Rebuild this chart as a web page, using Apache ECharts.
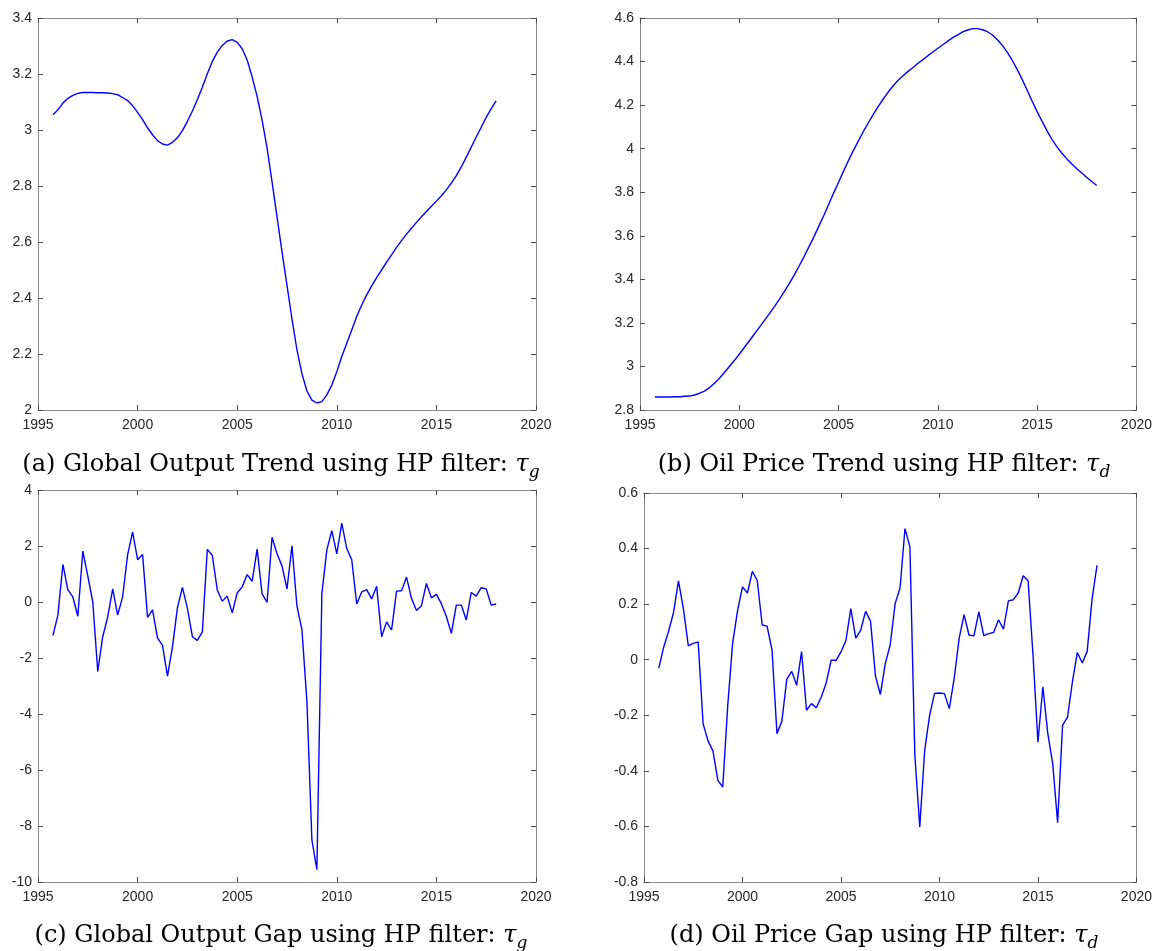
<!DOCTYPE html>
<html>
<head>
<meta charset="utf-8">
<script src="https://cdn.jsdelivr.net/npm/echarts@6.0.0/dist/echarts.min.js"></script>
<style>
html,body{margin:0;padding:0;background:#fff;}
#chart{width:1155px;height:951px;}
</style>
</head>
<body>
<div id="chart"></div>
<script>
// Quarterly observations, 1995Q4 .. 2018Q1
const startYear = 1995.75;
const quarterStep = 0.25;

const outputTrend = [
  3.054, 3.072, 3.096, 3.113, 3.124, 3.131, 3.134, 3.134, 3.134, 3.133,
  3.133, 3.132, 3.130, 3.126, 3.116, 3.105, 3.087, 3.063, 3.037, 3.008,
  2.983, 2.962, 2.950, 2.946, 2.956, 2.972, 2.998, 3.031, 3.068, 3.108,
  3.153, 3.201, 3.244, 3.278, 3.302, 3.318, 3.323, 3.313, 3.290, 3.250,
  3.190, 3.120, 3.035, 2.935, 2.815, 2.690, 2.565, 2.445, 2.325, 2.215,
  2.130, 2.068, 2.035, 2.025, 2.030, 2.054, 2.089, 2.137, 2.191, 2.238,
  2.286, 2.334, 2.375, 2.411, 2.443, 2.473, 2.500, 2.528, 2.554, 2.581,
  2.605, 2.628, 2.649, 2.670, 2.690, 2.709, 2.728, 2.746, 2.765, 2.786,
  2.810, 2.837, 2.868, 2.903, 2.939, 2.975, 3.010, 3.045, 3.076, 3.104
];

const oilTrend = [
  2.860, 2.860, 2.860, 2.860, 2.861, 2.861, 2.863, 2.864, 2.869, 2.877,
  2.887, 2.903, 2.923, 2.946, 2.972, 3.000, 3.027, 3.056, 3.087, 3.117,
  3.148, 3.178, 3.209, 3.240, 3.272, 3.306, 3.341, 3.378, 3.417, 3.459,
  3.502, 3.548, 3.594, 3.643, 3.692, 3.744, 3.796, 3.846, 3.897, 3.946,
  3.992, 4.036, 4.079, 4.119, 4.157, 4.194, 4.228, 4.260, 4.289, 4.314,
  4.335, 4.355, 4.373, 4.392, 4.409, 4.427, 4.444, 4.461, 4.477, 4.494,
  4.510, 4.523, 4.536, 4.545, 4.551, 4.551, 4.546, 4.537, 4.522, 4.500,
  4.474, 4.442, 4.405, 4.363, 4.317, 4.268, 4.218, 4.170, 4.125, 4.082,
  4.042, 4.008, 3.979, 3.953, 3.930, 3.908, 3.888, 3.868, 3.849, 3.831
];

const outputGap = [
  -1.20, -0.46, 1.34, 0.43, 0.18, -0.51, 1.82, 0.93, 0.00, -2.48,
  -1.24, -0.53, 0.47, -0.47, 0.19, 1.69, 2.50, 1.51, 1.70, -0.55,
  -0.28, -1.28, -1.55, -2.65, -1.60, -0.20, 0.52, -0.22, -1.24, -1.37,
  -1.07, 1.88, 1.67, 0.43, 0.03, 0.21, -0.39, 0.32, 0.54, 0.98,
  0.74, 1.89, 0.29, -0.01, 2.31, 1.72, 1.29, 0.47, 2.01, -0.15,
  -0.99, -3.55, -8.50, -9.56, 0.30, 1.86, 2.55, 1.72, 2.82, 1.91,
  1.51, -0.07, 0.36, 0.44, 0.11, 0.56, -1.24, -0.71, -1.00, 0.39,
  0.40, 0.89, 0.13, -0.30, -0.13, 0.66, 0.15, 0.27, -0.06, -0.52,
  -1.12, -0.11, -0.11, -0.64, 0.34, 0.21, 0.51, 0.47, -0.11, -0.07
];

const oilGap = [
  -0.030, 0.045, 0.103, 0.170, 0.284, 0.183, 0.050, 0.059, 0.064, -0.230,
  -0.292, -0.328, -0.434, -0.458, -0.166, 0.060, 0.177, 0.262, 0.240, 0.318,
  0.285, 0.125, 0.121, 0.035, -0.266, -0.221, -0.070, -0.042, -0.092, 0.029,
  -0.182, -0.158, -0.173, -0.134, -0.084, -0.002, -0.002, 0.028, 0.069, 0.184,
  0.078, 0.106, 0.174, 0.139, -0.058, -0.125, -0.014, 0.054, 0.202, 0.258,
  0.472, 0.406, -0.344, -0.602, -0.326, -0.200, -0.121, -0.120, -0.122, -0.176,
  -0.066, 0.077, 0.162, 0.089, 0.086, 0.172, 0.087, 0.094, 0.098, 0.144,
  0.110, 0.212, 0.216, 0.240, 0.302, 0.284, 0.016, -0.297, -0.098, -0.266,
  -0.374, -0.587, -0.236, -0.207, -0.080, 0.026, -0.012, 0.030, 0.220, 0.340
];

const xTicks = {min: 1995, max: 2020, interval: 5};
const yTicksA = {min: 2, max: 3.4, interval: 0.2};
const yTicksB = {min: 2.8, max: 4.6, interval: 0.2};
const yTicksC = {min: -10, max: 4, interval: 2};
const yTicksD = {min: -0.8, max: 0.6, interval: 0.2};

const captions = [
  {label: '(a) Global Output Trend using HP filter: ', sub: 'g'},
  {label: '(b) Oil Price Trend using HP filter: ', sub: 'd'},
  {label: '(c) Global Output Gap using HP filter: ', sub: 'g'},
  {label: '(d) Oil Price Gap using HP filter: ', sub: 'd'}
];

const dates = outputTrend.map((_, i) => startYear + quarterStep * i);
const pairs = arr => arr.map((v, i) => [dates[i], v]);

const panels = [
  {grid: {left: 38, top: 18, width: 498, height: 392}, y: yTicksA, data: outputTrend, cap: {x: 281, y: 465}},
  {grid: {left: 640, top: 18, width: 497, height: 392}, y: yTicksB, data: oilTrend, cap: {x: 884, y: 465}},
  {grid: {left: 38, top: 490, width: 498, height: 392}, y: yTicksC, data: outputGap, cap: {x: 281, y: 936}},
  {grid: {left: 644, top: 493, width: 493, height: 389}, y: yTicksD, data: oilGap, cap: {x: 884, y: 936}}
];

const spineColor = '#8a8a8a';
const tickColor = '#4a4a4a';
const labelStyle = {color: '#262626', fontSize: 14, fontFamily: 'Liberation Sans, Arial, sans-serif'};
const fmt = v => String(+(+v).toFixed(2));

const grids = [], xAxes = [], yAxes = [], series = [], graphics = [];
panels.forEach((p, gi) => {
  grids.push(Object.assign({containLabel: false}, p.grid));
  ['bottom', 'top'].forEach(pos => {
    xAxes.push({
      type: 'value', gridIndex: gi, position: pos,
      min: xTicks.min, max: xTicks.max, interval: xTicks.interval,
      axisLine: {show: true, onZero: false, lineStyle: {color: spineColor, width: 1}},
      axisTick: {show: true, inside: true, length: 5, lineStyle: {color: tickColor, width: 1}},
      axisLabel: Object.assign({show: pos === 'bottom', margin: 8, formatter: fmt}, labelStyle),
      splitLine: {show: false}
    });
  });
  ['left', 'right'].forEach(pos => {
    yAxes.push({
      type: 'value', gridIndex: gi, position: pos,
      min: p.y.min, max: p.y.max, interval: p.y.interval,
      axisLine: {show: true, onZero: false, lineStyle: {color: spineColor, width: 1}},
      axisTick: {show: true, inside: true, length: 5, lineStyle: {color: tickColor, width: 1}},
      axisLabel: Object.assign({show: pos === 'left', margin: 6, formatter: fmt}, labelStyle),
      splitLine: {show: false}
    });
  });
  series.push({
    type: 'line', xAxisIndex: 2 * gi, yAxisIndex: 2 * gi,
    data: pairs(p.data), showSymbol: false, symbol: 'none', smooth: false,
    lineStyle: {color: '#0000ff', width: 1.4}, animation: false
  });
  const c = captions[gi];
  graphics.push({
    type: 'text', x: p.cap.x, y: p.cap.y,
    style: {
      text: '{n|' + c.label + '}{t|τ}{s|' + c.sub + '}',
      align: 'center', verticalAlign: 'middle', fill: '#000',
      rich: {
        n: {fontFamily: 'DejaVu Serif', fontSize: 24, lineHeight: 32, fill: '#000'},
        t: {fontFamily: 'DejaVu Serif', fontSize: 24, fontStyle: 'italic', lineHeight: 32, fill: '#000'},
        s: {fontFamily: 'DejaVu Serif', fontSize: 17, fontStyle: 'italic', verticalAlign: 'bottom', fill: '#000'}
      }
    }
  });
});

const chart = echarts.init(document.getElementById('chart'), null, {renderer: 'canvas'});
chart.setOption({
  animation: false,
  backgroundColor: '#fff',
  grid: grids, xAxis: xAxes, yAxis: yAxes, series: series, graphic: graphics
});
</script>
</body>
</html>
